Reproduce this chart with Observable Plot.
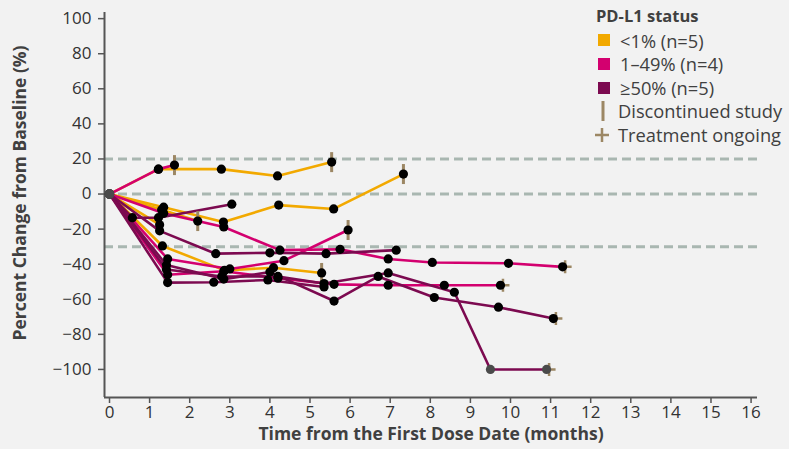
<!DOCTYPE html>
<html>
<head>
<meta charset="utf-8">
<script src="https://cdn.jsdelivr.net/npm/d3@7"></script>
<script src="https://cdn.jsdelivr.net/npm/@observablehq/plot@0.6"></script>
<style>
  html, body { margin: 0; padding: 0; background: #F2F2F2; }
  #wrap { position: relative; width: 789px; height: 449px; font-family: "Open Sans", Lato, sans-serif; }
  #legend { position: absolute; left: 596px; top: 4px; color: #404040; font-size: 18.3px; line-height: 23.6px; }
  #legend .title { font-weight: 700; font-size: 16.5px; margin-bottom: 1px; }
  #legend .row { display: flex; align-items: center; white-space: nowrap; }
  #legend .sw { width: 12px; height: 12px; margin: 0 10px 0 2px; }
  #legend svg { margin-right: 8px; }
</style>
</head>
<body>
<div id="wrap">
  <div id="chart"></div>
  <div id="legend"></div>
</div>
<script>
// ---- data ----
const groupNames = ["<1% (n=5)", "1–49% (n=4)", "≥50% (n=5)"];
const groupColors = ["#F2A900", "#D3006F", "#7C0A50"];
const markerColor = "#9C8764";

const patientGroup = [0, 0, 0, 0, 0, 1, 1, 1, 1, 2, 2, 2, 2, 2];
const patientEnd = ["disc", "disc", "disc", "disc", "disc",
                    "disc", "ongoing", "disc", "ongoing",
                    "none", "none", "ongoing", "ongoing", "none"];
const patientMonths = [
  [0, 1.22, 2.79, 4.19, 5.54],
  [0, 1.35, 2.84, 4.22, 5.59, 7.33],
  [0, 1.32, 2.87, 4.09, 5.29],
  [0, 1.3, 2.2],
  [0, 1.25],
  [0, 1.22, 1.62],
  [0, 1.35, 2.85, 4.25, 5.75, 6.95, 8.05, 9.95, 11.3],
  [0, 1.45, 3.0, 4.35, 5.95],
  [0, 1.45, 2.85, 4.2, 5.6, 6.95, 8.35, 9.75],
  [0, 0.57, 1.22, 3.05],
  [0, 1.25, 2.65, 4.0, 5.4, 7.15],
  [0, 1.42, 2.85, 4.0, 5.6, 6.7, 8.1, 9.7, 11.07],
  [0, 1.42, 2.8, 4.2, 5.35, 6.95, 8.6, 9.5, 10.9],
  [0, 1.45, 2.6, 3.95, 5.35]
];
const patientChange = [
  [0, 14.2, 14.2, 10.3, 18.2],
  [0, -7.5, -16, -6.3, -8.5, 11.4],
  [0, -29.6, -43.5, -42, -45],
  [0, -9, -15.4],
  [0, -17.5],
  [0, 14.2, 16.5],
  [0, -11, -18.8, -32, -31.5, -37, -39, -39.5, -41.5],
  [0, -37, -42.7, -38, -20.5],
  [0, -46, -44, -48, -51.5, -52, -52, -52],
  [0, -13.5, -13.5, -5.8],
  [0, -21, -34, -33.5, -34, -32],
  [0, -40.5, -48.5, -44.5, -61, -47, -59, -64.5, -71],
  [0, -43, -47, -47, -51, -45, -56, -100, -100],
  [0, -50.5, -50.3, -49, -53]
];
const refLines = [20, 0, -30];
const xTicks = d3.range(0, 17);
const yTicks = d3.range(-100, 101, 20);
const xMin = -0.125, xMax = 16.16;
const yMin = -116, yMax = 103.5;

// ---- derived table ----
const rows = [];
const ends = [];
patientMonths.forEach((ms, i) => {
  ms.forEach((m, j) => rows.push({pt: i, group: patientGroup[i], month: m, change: patientChange[i][j]}));
  const last = ms.length - 1;
  ends.push({pt: i, end: patientEnd[i], month: ms[last], change: patientChange[i][last]});
});

const vbar = { draw(ctx, size) { const r = Math.sqrt(size / Math.PI); ctx.moveTo(0, -r); ctx.lineTo(0, r); } };
const plusSym = { draw(ctx, size) { const r = Math.sqrt(size / Math.PI); ctx.moveTo(0, -r); ctx.lineTo(0, r); ctx.moveTo(-r, 0); ctx.lineTo(r, 0); } };

const chart = Plot.plot({
  width: 789,
  height: 449,
  marginLeft: 104,
  marginRight: 32,
  marginTop: 12,
  marginBottom: 52,
  style: { background: "#F2F2F2", fontFamily: "'Open Sans', Lato, sans-serif", fontSize: "17px", color: "#333" },
  x: { domain: [xMin, xMax] },
  y: { domain: [yMin, yMax] },
  marks: [
    Plot.ruleY(refLines, { stroke: "#A9B7B1", strokeWidth: 3, strokeDasharray: "9,5" }),
    Plot.ruleX([xMin], { stroke: "#555", strokeWidth: 2 }),
    Plot.ruleY([yMin], { stroke: "#555", strokeWidth: 2 }),
    Plot.axisX({ ticks: xTicks, tickSize: 6, tickPadding: 2, label: null, stroke: "#555", strokeWidth: 1.5, fill: "#333" }),
    Plot.axisY({ ticks: yTicks, tickSize: 6, tickPadding: 7, label: null, stroke: "#555", strokeWidth: 1.5, fill: "#333", tickFormat: d => d < 0 ? "\u2212" + Math.abs(d) : String(d) }),
    Plot.line(rows, { x: "month", y: "change", z: "pt", stroke: d => groupColors[d.group], strokeWidth: 2.6 }),
    Plot.dot(ends.filter(d => d.end === "disc"), { x: "month", y: "change", symbol: vbar, r: 10, stroke: markerColor, strokeWidth: 3, fill: "none" }),
    Plot.dot(ends.filter(d => d.end === "ongoing"), { x: "month", y: "change", symbol: plusSym, r: 6.5, dx: 2.5, stroke: markerColor, strokeWidth: 2.5, fill: "none" }),
    Plot.dot(rows, { x: "month", y: "change", r: 4.6, fill: d => (d.month === 0 || d.change <= -100) ? "#4a4a4a" : "#000", stroke: "none" }),
    Plot.text(["Time from the First Dose Date (months)"], { frameAnchor: "bottom", dy: 42, fontWeight: "bold", fontSize: 17.5, fill: "#404040", textAnchor: "middle" }),
    Plot.text(["Percent Change from Baseline (%)"], { frameAnchor: "left", rotate: -90, dx: -84, dy: -12, fontWeight: "bold", fontSize: 17.5, fill: "#404040", textAnchor: "middle" })
  ]
});
document.getElementById("chart").appendChild(chart);

// ---- legend ----
const leg = document.getElementById("legend");
let html = `<div class="title">PD-L1 status</div>`;
groupNames.forEach((g, i) => {
  html += `<div class="row"><span class="sw" style="background:${groupColors[i]}"></span>${g}</div>`;
});
html += `<div class="row"><svg width="14" height="22"><line x1="7" y1="1" x2="7" y2="21" stroke="${markerColor}" stroke-width="3"/></svg>Discontinued study</div>`;
html += `<div class="row"><svg width="16" height="16" style="margin-left:-2px"><path d="M8,1V15M1,8H15" stroke="${markerColor}" stroke-width="2.5"/></svg>Treatment ongoing</div>`;
leg.innerHTML = html;
</script>
</body>
</html>
